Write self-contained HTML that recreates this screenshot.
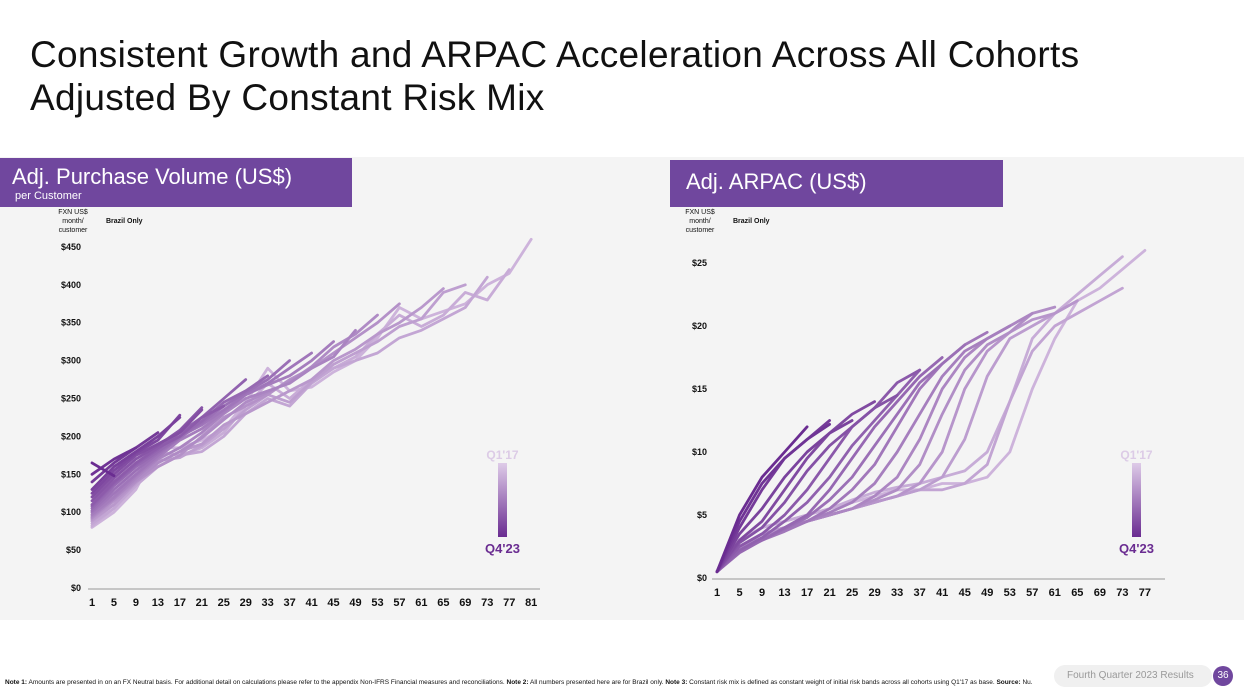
<!DOCTYPE html>
<html><head><meta charset="utf-8">
<style>
body{margin:0;width:1244px;height:700px;background:#fff;font-family:"Liberation Sans",sans-serif;overflow:hidden;position:relative}
.title{position:absolute;left:30px;top:33px;font-size:37px;line-height:43px;color:#111;letter-spacing:0.3px}
.panel{position:absolute;left:0;top:157px;width:1244px;height:463px;background:#f4f4f4}
.hdr{position:absolute;background:#70479e;color:#fff}
svg{position:absolute;left:0;top:0}
.foot{position:absolute;left:5px;top:679px;width:1045px;font-size:6.5px;line-height:8px;color:#111}
.pill{position:absolute;left:1054px;top:665px;width:158px;height:22px;border-radius:11px;background:#f0f0f0;color:#999;font-size:10px;line-height:22px;padding-left:13px;box-sizing:border-box}
.badge{position:absolute;left:1213px;top:666px;width:20px;height:20px;border-radius:10px;background:#70479e;color:#fff;font-size:10px;line-height:20px;text-align:center}
</style></head><body>
<div class="title">Consistent Growth and ARPAC Acceleration Across All Cohorts<br>Adjusted By Constant Risk Mix</div>
<div class="panel"></div>
<div class="hdr" style="left:0;top:158px;width:352px;height:49px"><div style="position:absolute;left:12px;top:6px;font-size:22px">Adj. Purchase Volume (US$)</div><div style="position:absolute;left:15px;top:32px;font-size:11px">per Customer</div></div>
<div class="hdr" style="left:670px;top:160px;width:333px;height:47px"><div style="position:absolute;left:16px;top:9px;font-size:22px">Adj. ARPAC (US$)</div></div>
<svg width="1244" height="700" id="chart"></svg>
<div class="foot"><b>Note 1:</b> Amounts are presented in on an FX Neutral basis. For additional detail on calculations please refer to the appendix Non-IFRS Financial measures and reconciliations. <b>Note 2:</b> All numbers presented here are for Brazil only. <b>Note 3:</b> Constant risk mix is defined as constant weight of initial risk bands across all cohorts using Q1'17 as base. <b>Source:</b> Nu.</div>
<div class="pill">Fourth Quarter 2023 Results</div>
<div class="badge">36</div>
<script>
// Purchase volume cohorts (values every 4 months starting month 1), oldest first
const pvCohorts = [
 [80,100,130,185,185,195,210,245,290,260,265,285,300,330,370,355,365,375,400,415,460],
 [82,105,140,180,175,185,205,240,270,250,275,290,305,335,360,345,360,390,380,420],
 [85,105,135,160,175,180,200,230,250,240,270,290,300,310,330,340,355,370,410],
 [88,110,138,168,172,188,210,235,255,245,272,295,310,325,345,355,390,400],
 [90,110,140,165,180,190,215,230,245,260,275,300,315,335,350,370,395],
 [92,115,140,160,175,200,225,240,255,275,290,310,330,350,375],
 [93,118,142,165,180,198,222,245,258,272,292,318,335,360],
 [95,118,145,170,185,205,230,250,260,270,290,305,340],
 [97,120,148,172,195,210,232,255,268,280,300,325],
 [100,125,150,175,200,215,235,255,270,290,310],
 [102,130,155,178,198,218,240,258,275,300],
 [105,135,160,180,200,220,245,260,280],
 [108,138,163,183,205,225,250,275],
 [110,140,165,185,200,225,240],
 [115,145,170,188,208,238],
 [120,150,175,190,205,235],
 [125,155,178,195,228],
 [130,160,180,200,225],
 [140,165,185,205],
 [150,170,185],
 [165,148]
];
const pvTicks = [0,50,100,150,200,250,300,350,400,450];
const pvXTicks = [1,5,9,13,17,21,25,29,33,37,41,45,49,53,57,61,65,69,73,77,81];
// ARPAC cohorts (values every 4 months starting month 1), oldest first
const arCohorts = [
 [0.5,3,4,4.5,5,5.5,6,6.5,7,7,7.5,7.5,8,10,15,19,22,23,24.5,26],
 [0.5,3,4,4.5,5,5.5,6.2,6.8,7.2,7.5,8,8.5,10,14,19,21,22.5,24,25.5],
 [0.5,2.5,3.5,4,4.5,5,5.5,6,6.5,7,7,7.5,9,14,18,20,21,22,23],
 [0.5,2.5,3.5,4,4.5,5,5.5,6,6.5,7,8,11,16,19,20,21,22],
 [0.5,2.5,3.5,4,4.5,5,5.5,6,6.5,7.5,10,15,18,19.5,20.5,21,22],
 [0.5,2.4,3.2,3.9,4.5,5,5.5,6.2,7,9,13,16.5,18.5,19.5,21,21.5],
 [0.5,2.3,3,3.8,4.5,5,5.5,6.5,8,11,15,17.5,19,20,21],
 [0.5,2.2,3,3.8,4.5,5.2,6,7.5,10,13,16,18,19,20],
 [0.5,2.2,3,3.7,4.5,5.5,7,9,12,15,17,18.5,19.5],
 [0.5,2.1,3,3.9,4.8,6.2,8,10.5,13,15.5,17,18.5],
 [0.5,2,3,4,5,7,9.5,12,14,16,17.5],
 [0.5,2.2,3.2,4.5,6,8,10.5,12.5,14.5,16.5],
 [0.5,2.5,3.5,5,7,9.5,12,13.5,15.5,16.5],
 [0.5,2.8,4,6,8.5,10.5,12,13.5,14.5],
 [0.5,3,4.5,7,9.5,11.5,13,14],
 [0.5,3.5,5.5,8,10,11.5,12.5],
 [0.5,4,7,9.5,11,12.5],
 [0.5,4.5,7.5,9.5,11,12.2],
 [0.5,5,8,10,12]
];
const arTicks = [0,5,10,15,20,25];
const arXTicks = [1,5,9,13,17,21,25,29,33,37,41,45,49,53,57,61,65,69,73,77];

const svg = document.getElementById('chart');
const NS = 'http://www.w3.org/2000/svg';
function mk(tag, attrs, text){const e=document.createElementNS(NS,tag);for(const k in attrs)e.setAttribute(k,attrs[k]);if(text!==undefined)e.textContent=text;svg.appendChild(e);return e;}
function col(t){const a=[106,44,145],b=[222,203,232];return 'rgb('+a.map((v,i)=>Math.round(b[i]+(v-b[i])*t)).join(',')+')';}

function draw(cfg){
  const xs=m=>cfg.x0+(m-1)*cfg.dx, ys=v=>cfg.y0-v*cfg.dy;
  let e=mk('line',{x1:cfg.ax0,x2:cfg.ax1,y1:cfg.y0+1,y2:cfg.y0+1,stroke:'#999','stroke-width':1});
   
  cfg.yt.forEach(v=>{e=mk('text',{x:cfg.yl,y:ys(v)+3,'text-anchor':'end','font-size':9,'font-weight':'bold',fill:'#111'},'$'+v);
     });
  cfg.xt.forEach(m=>{e=mk('text',{x:xs(m),y:cfg.y0+18,'text-anchor':'middle','font-size':11,'font-weight':'bold',fill:'#111'},m);
     });
  const n=cfg.data.length;
  cfg.data.forEach((s,i)=>{
    const pts=s.map((v,j)=>xs(1+4*j).toFixed(1)+','+ys(v).toFixed(1)).join(' ');
    e=mk('polyline',{points:pts,fill:'none',stroke:col(0.15+0.85*i/(n-1)),'stroke-width':2.8,'stroke-linejoin':'round','stroke-linecap':'round'});
     
  });
  e=mk('text',{x:cfg.lx-23,y:cfg.ly-33,'font-size':7,fill:'#111','text-anchor':'middle'},'FXN US$');
   
  mk('text',{x:cfg.lx-23,y:cfg.ly-24,'font-size':7,fill:'#111','text-anchor':'middle'},'month/');
  mk('text',{x:cfg.lx-23,y:cfg.ly-15,'font-size':7,fill:'#111','text-anchor':'middle'},'customer');
  e=mk('text',{x:cfg.lx+10,y:cfg.ly-24,'font-size':7,'font-weight':'bold',fill:'#111'},'Brazil Only');
   
  const g=document.createElementNS(NS,'linearGradient');g.setAttribute('id','g'+cfg.p);g.setAttribute('x1',0);g.setAttribute('x2',0);g.setAttribute('y1',0);g.setAttribute('y2',1);
  [['0',col(0)],['1',col(1)]].forEach(([o,c])=>{const st=document.createElementNS(NS,'stop');st.setAttribute('offset',o);st.setAttribute('stop-color',c);g.appendChild(st);});
  svg.appendChild(g);
  e=mk('rect',{x:cfg.gx,y:463,width:9,height:74,fill:'url(#g'+cfg.p+')'});
   
  e=mk('text',{x:cfg.gx+4.5,y:459,'text-anchor':'middle','font-size':12,'font-weight':'bold',fill:'#dccbe6'},"Q1'17");
   
  e=mk('text',{x:cfg.gx+4.5,y:553,'text-anchor':'middle','font-size':13,'font-weight':'bold',fill:'#6a2c91'},"Q4'23");
   
}
draw({p:'pv',data:pvCohorts,yt:pvTicks,xt:pvXTicks,x0:92,dx:5.49,y0:588,dy:0.758,ax0:88,ax1:540,yl:81,lx:96,ly:247,gx:498});
draw({p:'arpac',data:arCohorts,yt:arTicks,xt:arXTicks,x0:717,dx:5.63,y0:578,dy:12.6,ax0:712,ax1:1165,yl:707,lx:723,ly:247,gx:1132});
</script>
</body></html>
